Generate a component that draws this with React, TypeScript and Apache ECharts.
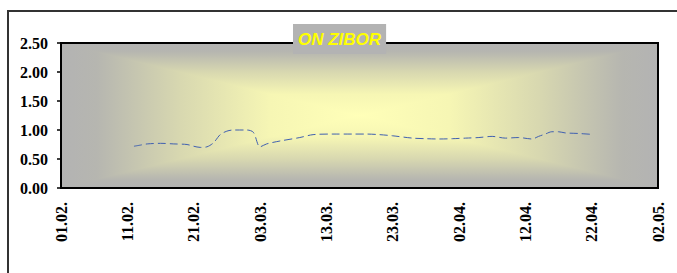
import React, { useEffect, useRef } from "react";
import * as echarts from "echarts";

const tickLabels = ["01.02.", "11.02.", "21.02.", "03.03.", "13.03.", "23.03.", "02.04.", "12.04.", "22.04.", "02.05."];
// day offsets from 01.02.
const days = [11, 12, 13, 15, 17, 19, 20, 21, 22, 23, 24, 25, 26, 28, 29, 30, 31, 33, 36, 38, 41, 44, 46, 48, 50, 53, 55, 57, 59, 61, 63, 65, 67, 69, 71, 72, 73, 74, 75, 76, 78, 80];
const rates = [0.72, 0.74, 0.76, 0.77, 0.76, 0.75, 0.72, 0.70, 0.71, 0.78, 0.92, 0.98, 1.0, 1.0, 0.96, 0.71, 0.76, 0.81, 0.87, 0.92, 0.93, 0.93, 0.93, 0.92, 0.90, 0.86, 0.85, 0.845, 0.85, 0.86, 0.87, 0.89, 0.86, 0.87, 0.845, 0.89, 0.93, 0.97, 0.97, 0.95, 0.94, 0.925];

const W = 677, H = 273;
const L = 61, T = 43, R = 658, B = 188;

export default function App() {
  const ref = useRef<HTMLDivElement>(null);
  useEffect(() => {
    const chart = echarts.init(ref.current!, null, { renderer: "svg" });
    const cx = (L + R) / 2, cy = (T + B) / 2;
    const stops = [
      { offset: 0, color: "#b3b3b3" },
      { offset: 0.12, color: "#b6b6b0" },
      { offset: 0.4, color: "#d8d8b0" },
      { offset: 0.7, color: "#f6f6b4" },
      { offset: 1, color: "#ffffb8" },
    ];
    const grad = (x: number, y: number, x2: number, y2: number) =>
      new echarts.graphic.LinearGradient(x, y, x2, y2, stops);
    const option: any = {
      animation: false,
      title: {
        text: "ON ZIBOR",
        left: 293,
        top: 24,
        backgroundColor: "#b3b3b3",
        padding: [6, 5, 6, 5],
        textStyle: {
          color: "#ffff00",
          fontStyle: "italic",
          fontWeight: "bold",
          fontSize: 17,
          lineHeight: 18,
          fontFamily: "Arial, 'Liberation Sans', sans-serif",
        },
      },
      graphic: [
        { type: "rect", z: -10, silent: true, shape: { x: 8, y: 11, width: 700, height: 300 }, style: { fill: "#fff", stroke: "#333", lineWidth: 2 } },
        { type: "rect", z: -9, silent: true, shape: { x: L, y: T, width: R - L, height: cy - T + 0.5 }, style: { fill: grad(0, 0, 0, 1) } },
        { type: "rect", z: -9, silent: true, shape: { x: L, y: cy - 0.5, width: R - L, height: B - cy + 0.5 }, style: { fill: grad(0, 1, 0, 0) } },
        { type: "polygon", z: -8, silent: true, shape: { points: [[L, T], [L, B], [cx, cy]] }, style: { fill: grad(0, 0, 1, 0) } },
        { type: "polygon", z: -8, silent: true, shape: { points: [[R, T], [R, B], [cx, cy]] }, style: { fill: grad(1, 0, 0, 0) } },
      ],
      grid: {
        left: L,
        top: T,
        right: W - R,
        bottom: H - B,
        show: true,
        borderColor: "#000",
        borderWidth: 2,
        backgroundColor: "transparent",
      },
      xAxis: {
        type: "value",
        min: 0,
        max: 90,
        interval: 10,
        axisLine: { show: true, onZero: false, lineStyle: { color: "#000", width: 2 } },
        axisTick: { show: false },
        splitLine: { show: false },
        axisLabel: {
          rotate: 90,
          margin: 14,
          color: "#000",
          fontWeight: "bold",
          fontSize: 16,
          fontFamily: "'Times New Roman', 'Liberation Serif', serif",
          formatter: (v: number) => tickLabels[Math.round(v / 10)] ?? "",
        },
      },
      yAxis: {
        type: "value",
        min: 0,
        max: 2.5,
        interval: 0.5,
        axisLine: { show: true, lineStyle: { color: "#000", width: 2 } },
        axisTick: { show: true, length: 4, lineStyle: { color: "#000", width: 1.5 } },
        splitLine: { show: false },
        axisLabel: {
          margin: 13,
          color: "#000",
          fontWeight: "bold",
          fontSize: 16,
          fontFamily: "'Times New Roman', 'Liberation Serif', serif",
          formatter: (v: number) => v.toFixed(2),
        },
      },
      series: [
        {
          type: "line",
          data: days.map((d, i) => [d, rates[i]]),
          showSymbol: false,
          smooth: 0.3,
          lineStyle: { color: "#3f5fb0", width: 1, type: [8, 4] },
        },
      ],
    };
    chart.setOption(option);
    return () => chart.dispose();
  }, []);
  return <div ref={ref} style={{ position: "absolute", left: 0, top: 0, width: W, height: H }} />;
}
